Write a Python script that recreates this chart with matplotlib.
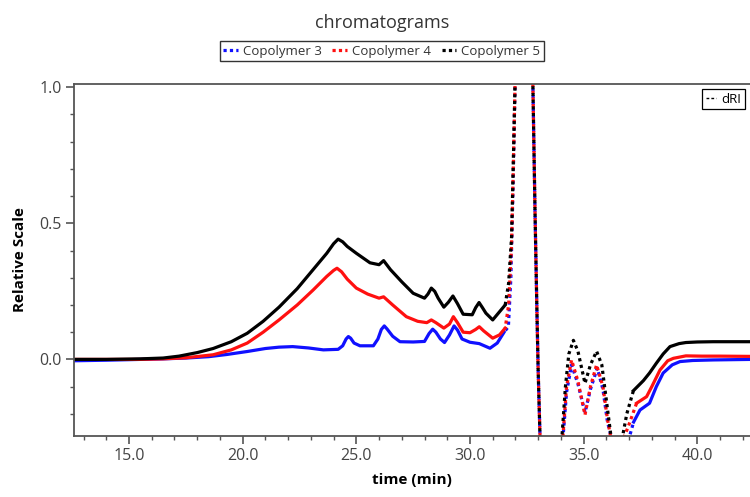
import numpy as np
import matplotlib
matplotlib.use('Agg')
import matplotlib.pyplot as plt
from matplotlib.lines import Line2D
from matplotlib.ticker import MultipleLocator, FormatStrFormatter

plt.rcParams['font.family'] = ['Open Sans', 'DejaVu Sans']

# Copolymer 3 (blue)
x3 = [12.6, 14.0, 15.5, 16.5, 17.5, 18.5, 19.3, 20.2, 21.0, 21.6, 22.2, 22.9, 23.55, 24.2,
      24.4, 24.55, 24.65, 24.75, 24.9, 25.16, 25.75, 25.95, 26.1, 26.23, 26.35, 26.6, 26.92,
      27.5, 28.0, 28.2, 28.36, 28.5, 28.7, 28.88, 29.1, 29.3, 29.45, 29.65, 30.0, 30.41, 30.88,
      31.2, 31.5, 31.69, 31.8, 31.9, 31.98, 32.1, 32.65, 32.77, 32.86, 32.94, 33.0, 33.08,
      33.12, 34.0, 34.1, 34.25, 34.47, 34.75, 35.06, 35.3, 35.6, 35.85, 36.05, 36.2, 36.6,
      37.03, 37.2, 37.48, 37.9, 38.2, 38.5, 38.9, 39.24, 39.8, 40.7, 42.4]
y3 = [-0.005, -0.003, 0.0, 0.002, 0.005, 0.01, 0.018, 0.029, 0.04, 0.045, 0.047, 0.042, 0.035, 0.037,
      0.05, 0.075, 0.084, 0.078, 0.06, 0.05, 0.05, 0.075, 0.11, 0.123, 0.112, 0.085, 0.065,
      0.064, 0.066, 0.095, 0.111, 0.1, 0.075, 0.062, 0.09, 0.123, 0.108, 0.075, 0.063, 0.058, 0.041,
      0.06, 0.1, 0.12, 0.3, 0.65, 1.0, 1.5, 1.5, 1.0, 0.55, 0.2, -0.04, -0.28,
      -0.4, -0.4, -0.28, -0.12, -0.02, -0.09, -0.195, -0.11, -0.032, -0.11, -0.23, -0.28, -0.4,
      -0.28, -0.23, -0.186, -0.161, -0.1, -0.05, -0.02, -0.008, -0.004, -0.002, 0.0]

# Copolymer 4 (red)
x4 = [12.6, 14.0, 15.5, 16.5, 17.5, 18.7, 19.5, 20.2, 20.9, 21.6, 22.4, 23.1, 23.7, 24.0,
      24.15, 24.35, 24.6, 25.0, 25.5, 26.0, 26.2, 26.6, 27.2, 27.7, 28.1, 28.3, 28.5, 28.85,
      29.1, 29.27, 29.45, 29.7, 30.0, 30.25, 30.41, 30.6, 31.0, 31.3, 31.55, 31.7, 31.83, 31.9,
      31.98, 32.1, 32.65, 32.77, 32.86, 32.94, 33.0, 33.08, 33.12, 34.0, 34.1, 34.25, 34.47,
      34.75, 35.06, 35.3, 35.57, 35.85, 36.05, 36.18, 36.45, 36.8, 36.95, 37.33, 37.77, 38.0,
      38.36, 38.7, 38.95, 39.5, 40.2, 41.0, 42.4]
y4 = [0.0, 0.0, 0.0, 0.002, 0.006, 0.017, 0.035, 0.06, 0.1, 0.145, 0.2, 0.255, 0.305, 0.327,
      0.335, 0.322, 0.295, 0.262, 0.24, 0.225, 0.23, 0.2, 0.157, 0.14, 0.135, 0.145, 0.135, 0.115,
      0.13, 0.157, 0.135, 0.1, 0.098, 0.11, 0.12, 0.105, 0.078, 0.09, 0.115, 0.2, 0.42, 0.68,
      1.0, 1.5, 1.5, 1.0, 0.55, 0.2, -0.04, -0.28, -0.4, -0.4, -0.27, -0.1, -0.002,
      -0.08, -0.204, -0.1, -0.02, -0.1, -0.22, -0.28, -0.4, -0.28, -0.25, -0.161, -0.137, -0.1,
      -0.039, -0.005, 0.004, 0.013, 0.012, 0.012, 0.011]

# Copolymer 5 (black)
x5 = [12.6, 14.0, 15.5, 16.5, 17.2, 18.0, 18.7, 19.5, 20.2, 20.9, 21.6, 22.4, 23.1, 23.7,
      24.0, 24.2, 24.4, 24.6, 25.0, 25.6, 26.0, 26.2, 26.5, 27.0, 27.5, 28.0, 28.15, 28.3,
      28.45, 28.6, 28.85, 29.05, 29.25, 29.45, 29.7, 30.1, 30.25, 30.4, 30.55, 30.7, 31.0,
      31.3, 31.55, 31.7, 31.83, 31.9, 31.98, 32.1, 32.65, 32.77, 32.86, 32.94, 33.0, 33.08,
      33.12, 34.0, 34.05, 34.2, 34.35, 34.55, 34.75, 35.06, 35.3, 35.57, 35.8, 36.0, 36.2,
      36.45, 36.72, 36.9, 37.19, 37.63, 37.9, 38.2, 38.5, 38.8, 39.2, 39.5, 40.0, 40.7, 41.5, 42.4]
y5 = [0.0, 0.0, 0.002, 0.005, 0.012, 0.025, 0.04, 0.065, 0.096, 0.14, 0.192, 0.26, 0.33, 0.39,
      0.425, 0.442, 0.432, 0.415, 0.39, 0.355, 0.348, 0.363, 0.33, 0.285, 0.243, 0.225, 0.24, 0.262,
      0.25, 0.225, 0.192, 0.21, 0.233, 0.205, 0.166, 0.164, 0.19, 0.209, 0.19, 0.17, 0.145,
      0.175, 0.2, 0.28, 0.45, 0.7, 1.0, 1.5, 1.5, 1.0, 0.55, 0.2, -0.04, -0.28,
      -0.4, -0.4, -0.28, -0.1, 0.02, 0.07, 0.03, -0.088, -0.02, 0.03, -0.02, -0.15, -0.28,
      -0.4, -0.28, -0.2, -0.115, -0.078, -0.05, -0.014, 0.02, 0.047, 0.058, 0.062, 0.064, 0.065, 0.065, 0.065]

series = [(x3, y3, '#1010ff', 'Copolymer 3', 1.4),
          (x4, y4, '#ff1010', 'Copolymer 4', 0.7),
          (x5, y5, 'black', 'Copolymer 5', 0.0)]

fig = plt.figure(figsize=(7.5, 4.97), dpi=100)
ax = fig.add_axes([0.099, 0.123, 0.901, 0.708])

for x, y, c, lab, off in series:
    x = np.array(x)
    y = np.array(y)
    # flat parts look solid, steep parts (dRI peak region) look dotted
    i1 = np.where(x <= 31.6)[0][-1]
    i2 = np.where(x >= 37.15)[0][0]
    ax.plot(x[:i1 + 1], y[:i1 + 1], color=c, lw=2.3)
    ax.plot(x[i1:i2 + 1], y[i1:i2 + 1], color=c, lw=2.3, ls=(off, (1, 1.1)),
            dash_capstyle='butt')
    ax.plot(x[i2:], y[i2:], color=c, lw=2.3)

ax.set_xlim(12.59, 42.32)
ax.set_ylim(-0.281, 1.012)
ax.xaxis.set_major_locator(MultipleLocator(5))
ax.xaxis.set_minor_locator(MultipleLocator(1))
ax.yaxis.set_major_locator(MultipleLocator(0.5))
ax.yaxis.set_minor_locator(MultipleLocator(0.1))
ax.xaxis.set_major_formatter(FormatStrFormatter('%.1f'))
ax.yaxis.set_major_formatter(FormatStrFormatter('%.1f'))
ax.tick_params(which='major', length=6, width=1.2, color='#555555', labelsize=11.5,
               labelcolor='#444444', pad=3)
ax.tick_params(which='minor', length=3, width=1.0, color='#555555')

for s in ['left', 'bottom', 'top']:
    ax.spines[s].set_color('#555555')
    ax.spines[s].set_linewidth(1.3)
ax.spines['right'].set_visible(False)

ax.set_xlabel('time (min)', fontsize=11, fontweight='bold', labelpad=6)
ax.set_ylabel('Relative Scale', fontsize=11, fontweight='bold', labelpad=9)

# dRI legend in corner
dri = Line2D([], [], color='black', lw=1.0, ls=(0, (2, 1.5)))
leg2 = ax.legend([dri], ['dRI'], loc='upper right', fontsize=9.5, handlelength=0.8,
                 handletextpad=0.4, borderpad=0.25, fancybox=False, edgecolor='black',
                 framealpha=1, borderaxespad=0.4)
leg2.get_frame().set_linewidth(0.9)

fig.text(0.509, 0.954, 'chromatograms', ha='center', va='center', fontsize=13, color='#333333')

handles = [Line2D([], [], color=c, lw=2.3, ls=(0, (1, 1))) for _, _, c, _, _ in series]
labels = [lab for _, _, _, lab, _ in series]
leg = fig.legend(handles, labels, loc='center', bbox_to_anchor=(0.509, 0.897), ncol=3,
                 fontsize=9.5, handlelength=1.1, handletextpad=0.4, columnspacing=0.8,
                 borderpad=0.25, fancybox=False, edgecolor='#333333', framealpha=1)
leg.get_frame().set_linewidth(1.0)
for t in leg.get_texts():
    t.set_color('#333333')

fig.savefig('out.png', dpi=100)
